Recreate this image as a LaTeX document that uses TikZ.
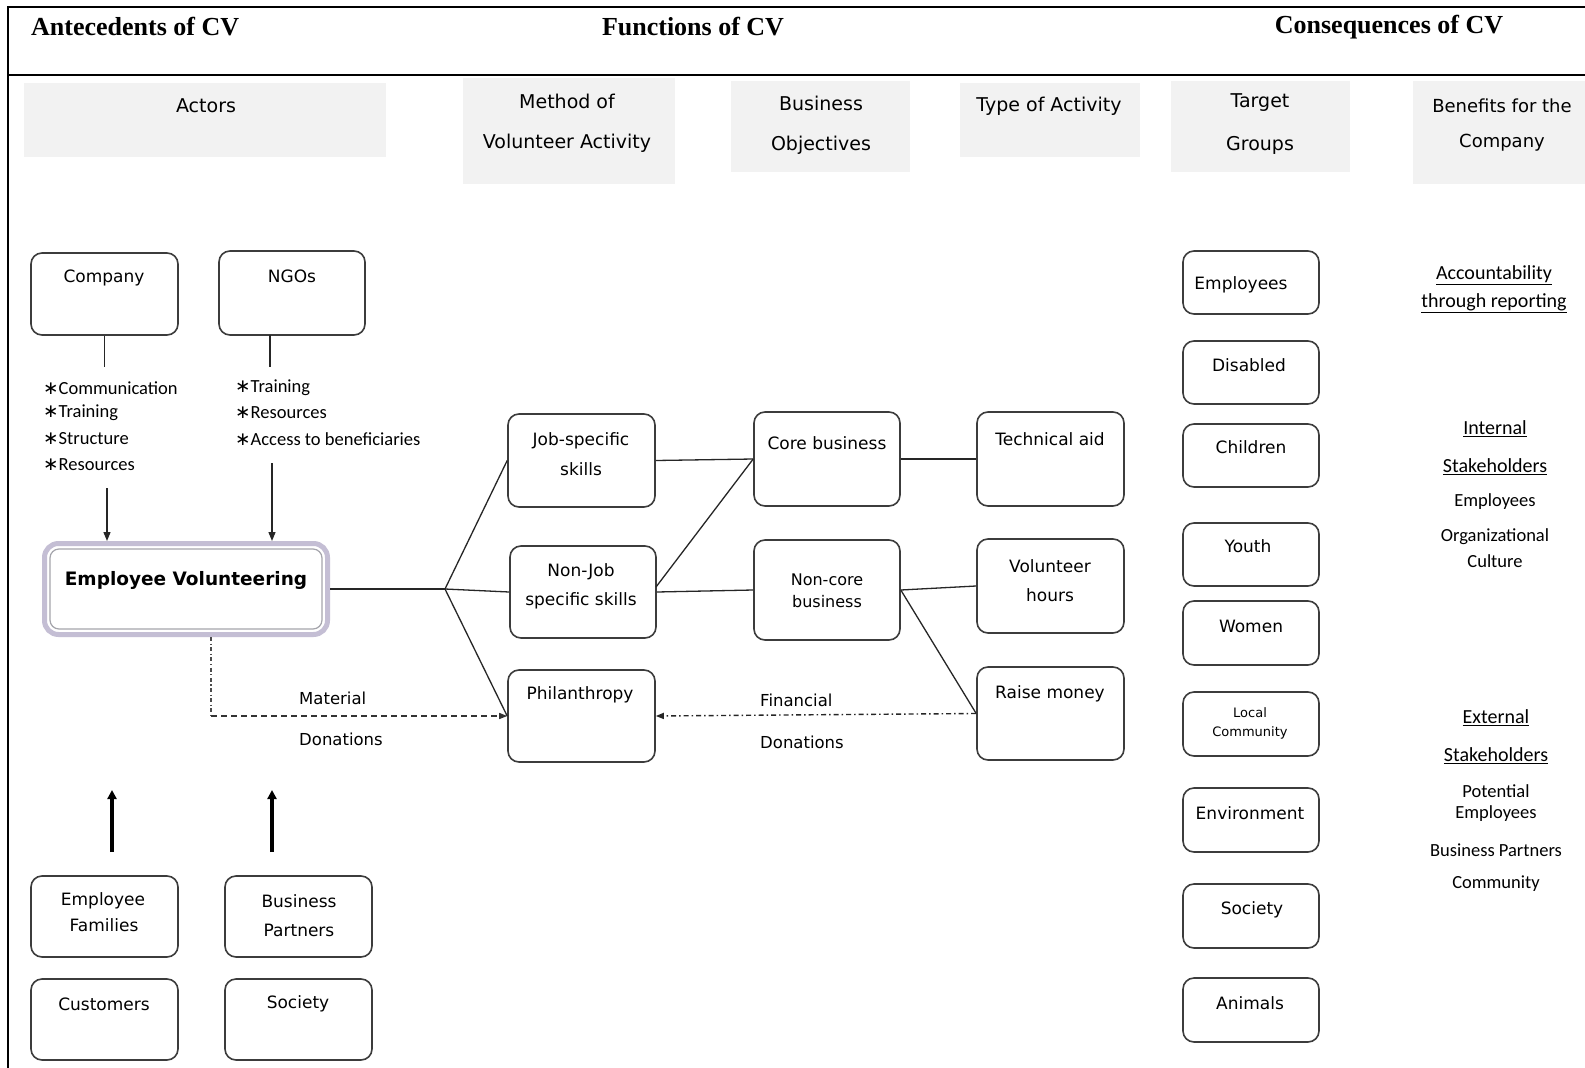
\documentclass[tikz,border=0pt]{standalone}
\usepackage{fontspec}
\setmainfont{DejaVu Sans}
\newfontfamily\djf{DejaVu Sans}
\newfontfamily\carf{Carlito}
\newfontfamily\tnrf{Liberation Serif}
\usetikzlibrary{arrows.meta}
\definecolor{boxc}{RGB}{60,60,60}
\definecolor{hdrc}{RGB}{242,242,242}
\definecolor{evc}{RGB}{196,190,212}
\definecolor{evin}{RGB}{165,165,172}
\newcommand\mybox[5]{\node[rbox,minimum width=#4,minimum height=#5] (#1) at (#2,#3) {};}
\newcommand\hdrbox[5]{\node[hbox,minimum width=#4,minimum height=#5] (#1) at (#2,#3) {};}
\newcommand\mystar{{\djf\char"2217}}
\begin{document}
\begin{tikzpicture}[x=1pt,y=-1pt,
  rbox/.style={draw=boxc,line width=1.6pt,rounded corners=11pt,inner sep=0pt,fill=white},
  hbox/.style={fill=hdrc,inner sep=0pt},
  bt/.style={inner sep=0pt,font=\djf\fontsize{17}{20}\selectfont},
  st/.style={inner sep=0pt,font=\djf\fontsize{13}{16}\selectfont},
  ht/.style={inner sep=0pt,font=\djf\fontsize{19}{22}\selectfont},
  lt/.style={inner sep=0pt,anchor=west,font=\carf\fontsize{18.5}{20}\selectfont},
  rt/.style={inner sep=0pt,font=\carf\fontsize{18.5}{22}\selectfont},
  ut/.style={inner sep=0pt,font=\carf\fontsize{20}{24}\selectfont},
  mt/.style={inner sep=0pt,anchor=west,font=\djf\fontsize{16.5}{20}\selectfont},
  tt/.style={inner sep=0pt,font=\tnrf\bfseries\fontsize{26}{30}\selectfont},
  conn/.style={draw=black!85,line width=1.3pt},
  arr/.style={conn,-{Triangle[length=9pt,width=7pt]}},
  tarr/.style={draw=black,line width=3.5pt,-{Triangle[length=9pt,width=9pt]}},
  frm/.style={draw=black,line width=2.5pt}]
\useasboundingbox (0,0) rectangle (1585,1068);
\fill[white] (0,0) rectangle (1585,1068);
% frame
\coordinate (f1) at (8,1068);
\coordinate (f2) at (8,7);
\coordinate (f3) at (1585,7);
\coordinate (f4) at (8,75);
\coordinate (f5) at (1585,75);
\draw[frm] (f1) -- (f2) -- (f3);
\draw[frm] (f4) -- (f5);
% titles
\node[tt,anchor=west] (t1) at (31,27) {Antecedents of CV};
\node[tt] (t2) at (693,27) {Functions of CV};
\node[tt] (t3) at (1389,27) {Consequences of CV};
% header boxes
\hdrbox{hA}{205}{120}{362}{74}
\hdrbox{hM}{569}{131}{212}{106}
\hdrbox{hB}{820.5}{126.5}{179}{91}
\hdrbox{hT}{1050}{120}{180}{74}
\hdrbox{hG}{1260.5}{126.5}{179}{91}
\hdrbox{hC}{1499}{132.5}{172}{103}
\node[ht] (hA1) at (206,106) {Actors};
\node[ht] (hM1) at (567,101) {Method of};
\node[ht] (hM2) at (567,143) {Volunteer Activity};
\node[ht] (hB1) at (821,103) {Business};
\node[ht] (hB2) at (821,145) {Objectives};
\node[ht] (hT1) at (1049,106) {Type of Activity};
\node[ht] (hG1) at (1260,103) {Target};
\node[ht] (hG2) at (1260,145) {Groups};
\node[ht,font=\djf\fontsize{18}{22}\selectfont] (hC1) at (1502,106) {Benefits for the};
\node[ht,font=\djf\fontsize{18}{22}\selectfont] (hC2) at (1502,143) {Company};
% left boxes
\mybox{company}{104.5}{294}{147}{82}
\mybox{ngo}{292}{293}{146}{84}
\mybox{ef}{104.5}{916.5}{147}{81}
\mybox{bp}{298.5}{916.5}{147}{81}
\mybox{cust}{104.5}{1019.5}{147}{81}
\mybox{soc}{298.5}{1019.5}{147}{81}
\node[bt] (tcompany) at (104,278) {Company};
\node[bt] (tngo) at (292,276) {NGOs};
\node[bt] (tef1) at (103,901) {Employee};
\node[bt] (tef2) at (104,925) {Families};
\node[bt] (tbp1) at (299,901) {Business};
\node[bt] (tbp2) at (299,930) {Partners};
\node[bt] (tcust) at (104,1004) {Customers};
\node[bt] (tsoc) at (298,1004) {Society};
% lists
\node[lt] (l1) at (43,388) {\mystar Communication};
\node[lt] (l2) at (43,413) {\mystar Training};
\node[lt] (l3) at (43,439) {\mystar Structure};
\node[lt] (l4) at (43,465) {\mystar Resources};
\node[lt] (n1) at (235,388) {\mystar Training};
\node[lt] (n2) at (235,413) {\mystar Resources};
\node[lt] (n3) at (235,439) {\mystar Access to beneficiaries};
% employee volunteering
\node[draw=evc,line width=5pt,rounded corners=14pt,minimum width=283,minimum height=91,inner sep=0pt,fill=white] (ev) at (186,589) {};
\draw[evin,line width=1.2pt,rounded corners=9pt] ([shift={(8,8)}]ev.north west) rectangle ([shift={(-8,-8)}]ev.south east);
\node[inner sep=0pt,font=\djf\bfseries\fontsize{18.5}{22}\selectfont] (tev) at (186,580) {Employee Volunteering};
% connectors left
\coordinate (cl) at (104.5,367);
\draw[conn] (company.south) -- (cl);
\coordinate (ng1) at (270,335);
\coordinate (ng2) at (270,367);
\draw[conn] (ng1) -- (ng2);
\coordinate (ca) at (107,488);
\coordinate (na) at (272,463);
\draw[arr] (ca) -- (ca |- ev.north);
\draw[arr] (na) -- (na |- ev.north);
\coordinate (ba1) at (112,852);
\coordinate (ba1t) at (112,790);
\coordinate (ba2) at (272,852);
\coordinate (ba2t) at (272,790);
\draw[tarr] (ba1) -- (ba1t);
\draw[tarr] (ba2) -- (ba2t);
% middle boxes
\mybox{job}{581.5}{460.5}{147}{93}
\mybox{nonjob}{583}{592}{146}{92}
\mybox{phil}{581.5}{716}{147}{92}
\mybox{core}{827}{459}{146}{94}
\mybox{noncore}{827}{590}{146}{100}
\mybox{tech}{1050.5}{459}{147}{94}
\mybox{vol}{1050.5}{586}{147}{94}
\mybox{raise}{1050.5}{713.5}{147}{93}
\node[bt] (tjob1) at (581,441) {Job-specific};
\node[bt] (tjob2) at (581,469) {skills};
\node[bt] (tnj1) at (581,572) {Non-Job};
\node[bt] (tnj2) at (581,601) {specific skills};
\node[bt] (tphil) at (580,695) {Philanthropy};
\node[bt] (tcore) at (827,443) {Core business};
\node[bt,font=\djf\fontsize{16}{20}\selectfont] (tnc1) at (827,580) {Non-core};
\node[bt,font=\djf\fontsize{16}{20}\selectfont] (tnc2) at (827,602) {business};
\node[bt] (ttech) at (1050,439) {Technical aid};
\node[bt] (tvol1) at (1050,566) {Volunteer};
\node[bt] (tvol2) at (1050,595) {hours};
\node[bt] (traise) at (1050,694) {Raise money};
% middle connectors
\coordinate (br) at (445,589);
\draw[conn] (ev.east) -- (br);
\draw[conn] (br) -- (job.west);
\draw[conn] (br) -- (nonjob.west);
\draw[conn] (br) -- (phil.west);
\draw[conn] (job.east) -- (core.west);
\coordinate (njd) at (656,587);
\draw[conn] (njd) -- (core.west);
\draw[conn] (nonjob.east) -- (noncore.west);
\draw[conn] (core.east) -- (tech.west);
\draw[conn] (noncore.east) -- (vol.west);
\draw[conn] (noncore.east) -- (raise.west);
% donations
\coordinate (mtop) at (211,637);
\coordinate (mcor) at (211,716);
\draw[draw=black!70,line width=1.3pt,dash pattern=on 4pt off 2.5pt on 1.2pt off 2.5pt] (mtop) -- (mcor);
\draw[draw=black!80,line width=1.3pt,dash pattern=on 6pt off 4pt,-{Triangle[length=8pt,width=6pt]}] (mcor) -- (phil.west);
\draw[draw=black!85,line width=1.4pt,dash pattern=on 5pt off 3pt on 1.5pt off 3pt,-{Triangle[length=8pt,width=6pt]}] (raise.west) -- (phil.east);
\node[mt] (mat1) at (299,698) {Material};
\node[mt] (mat2) at (299,739) {Donations};
\node[mt] (fin1) at (760,700) {Financial};
\node[mt] (fin2) at (760,742) {Donations};
% target groups
\mybox{gEmp}{1251}{282.5}{136}{63}
\mybox{gDis}{1251}{372.5}{136}{63}
\mybox{gChi}{1251}{455.5}{136}{63}
\mybox{gYou}{1251}{554.5}{136}{63}
\mybox{gWom}{1251}{633}{136}{64}
\mybox{gLoc}{1251}{724}{136}{64}
\mybox{gEnv}{1251}{820}{136}{64}
\mybox{gSoc}{1251}{916}{136}{64}
\mybox{gAni}{1251}{1010}{136}{64}
\node[bt] (tgEmp) at (1241,285) {Employees};
\node[bt] (tgDis) at (1249,365) {Disabled};
\node[bt] (tgChi) at (1251,447) {Children};
\node[bt] (tgYou) at (1248,546) {Youth};
\node[bt] (tgWom) at (1251,626) {Women};
\node[st] (tgLoc1) at (1250,713) {Local};
\node[st] (tgLoc2) at (1250,733) {Community};
\node[bt] (tgEnv) at (1250,813) {Environment};
\node[bt] (tgSoc) at (1252,910) {Society};
\node[bt] (tgAni) at (1250,1003) {Animals};
% benefits
\node[ut] (b1) at (1494,275) {\underline{Accountability}};
\node[ut] (b2) at (1494,303) {\underline{through reporting}};
\node[ut] (b3) at (1495,429) {\underline{Internal}};
\node[ut] (b4) at (1495,467) {\underline{Stakeholders}};
\node[rt] (b5) at (1495,502) {Employees};
\node[rt] (b6) at (1495,537) {Organizational};
\node[rt] (b7) at (1495,561) {Culture};
\node[ut] (b8) at (1496,718) {\underline{External}};
\node[ut] (b9) at (1496,756) {\underline{Stakeholders}};
\node[rt] (b10) at (1496,791) {Potential};
\node[rt] (b11) at (1496,814) {Employees};
\node[rt] (b12) at (1496,850) {Business Partners};
\node[rt] (b13) at (1496,884) {Community};
\end{tikzpicture}
\end{document}
